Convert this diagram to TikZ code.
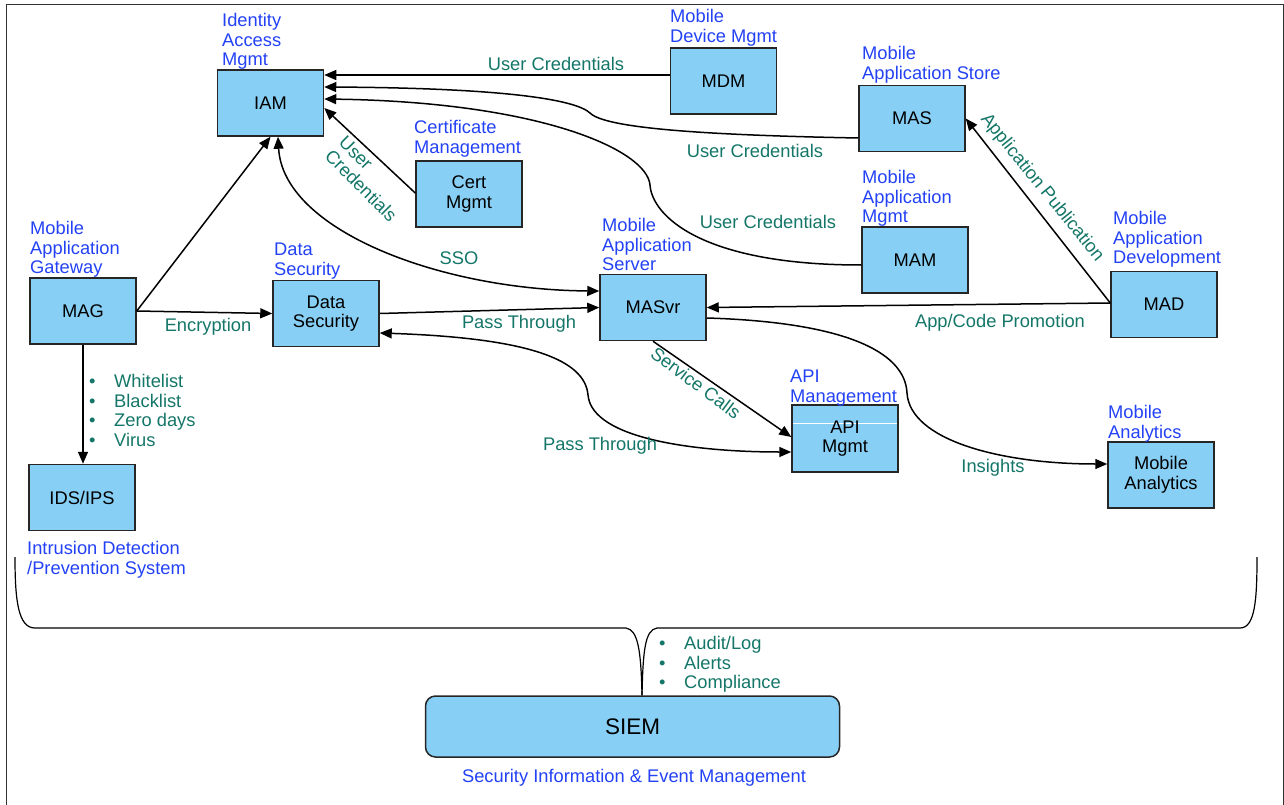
\documentclass[tikz,border=0pt]{standalone}
\usepackage{fontspec}
\setmainfont{Liberation Sans}
\usetikzlibrary{arrows.meta}
\definecolor{boxblue}{RGB}{135,207,245}
\definecolor{lblue}{RGB}{35,65,245}
\definecolor{tealtxt}{RGB}{20,118,104}
\begin{document}
\begin{tikzpicture}[x=1pt,y=-1pt,
  every node/.style={font=\fontsize{18.3}{19.7}\selectfont},
  box/.style={draw=black!85, line width=1.5pt, fill=boxblue, align=center, inner sep=0pt, minimum width=106pt, minimum height=66pt},
  lbl/.style={text=lblue, align=left, anchor=north west, inner sep=0pt},
  elbl/.style={text=tealtxt, inner sep=0pt},
  conn/.style={line width=1.5pt},
  arr/.style={line width=1.5pt, -{Triangle[length=12pt,width=10pt]}},
  darr/.style={line width=1.5pt, {Triangle[length=12pt,width=10pt]}-{Triangle[length=12pt,width=10pt]}}]
\useasboundingbox (0,0) rectangle (1284,805);
\draw[line width=1pt, black!80] (6,830) -- (6,5) -- (1283,5) -- (1283,830);

% boxes
\node[box] (iam) at (270.5,103) {IAM};
\node[box] (mdm) at (723.5,81) {MDM};
\node[box] (mas) at (912,118.5) {MAS};
\node[box] (cert) at (469,194) {Cert\\Mgmt};
\node[box] (mam) at (915,260) {MAM};
\node[box] (mad) at (1164,304.5) {MAD};
\node[box] (mag) at (83,311) {MAG};
\node[box] (ds) at (326,313.5) {Data\\Security};
\node[box] (ids) at (82,497.5) {IDS/IPS};
\node[box] (masvr) at (653,307.5) {MASvr};
\node[box, minimum height=67pt, path picture={\draw[white, line width=0.8pt] ([yshift=-18pt]path picture bounding box.north west) -- ([yshift=-18pt]path picture bounding box.north east);}] (api) at (845,438.5) {API\\Mgmt};
\node[box] (ma) at (1161,475) {Mobile\\Analytics};
\node[box, rounded corners=10pt, minimum width=414pt, minimum height=61pt, font=\fontsize{22.5}{24}\selectfont] (siem) at (632.5,726.5) {SIEM};

% blue labels
\node[lbl] (liam) at (222,13) {Identity\\Access\\Mgmt};
\node[lbl] (lmdm) at (670,9) {Mobile\\Device Mgmt};
\node[lbl] (lmas) at (862,46) {Mobile\\Application Store};
\node[lbl] (lcert) at (414,120) {Certificate\\Management};
\node[lbl] (lmam) at (862,170) {Mobile\\Application\\Mgmt};
\node[lbl] (lmad) at (1113,211) {Mobile\\Application\\Development};
\node[lbl] (lmag) at (30,221) {Mobile\\Application\\Gateway};
\node[lbl] (lds) at (274,243) {Data\\Security};
\node[lbl] (lmasvr) at (602,218) {Mobile\\Application\\Server};
\node[lbl] (lapi) at (790,370) {API\\Management};
\node[lbl] (lma) at (1108,405) {Mobile\\Analytics};
\node[lbl] (lids) at (27,541) {Intrusion Detection\\/Prevention System};
\node[text=lblue, inner sep=0pt, anchor=base] (lsiem) at (634,782.5) {Security Information \& Event Management};

% connectors
\draw[arr] (mdm.west |- 0,75) -- (iam.east |- 0,75);
\draw[arr] (mas.west |- 0,138) .. controls (700,135) and (605,128) .. (590,113) .. controls (575,99) and (500,88) .. (iam.east |- 0,87);
\draw[arr] (mam.west |- 0,265) .. controls (700,265) and (652,215) .. (650,185) .. controls (647,150) and (540,102) .. (iam.east |- 0,99);
\draw[arr] (cert.west |- 0,193) -- (iam.east |- 0,108);
\draw[arr] (mag.east) -- (iam.south);
\draw[darr] (iam.south -| 278,0) .. controls (283,230) and (440,290) .. (masvr.west |- 0,291);
\draw[arr] (mag.east) -- (ds.west);
\draw[arr] (ds.east) -- (masvr.west);
\draw[darr] (ds.east |- 0,333) .. controls (530,338) and (585,360) .. (588,395) .. controls (592,440) and (700,452) .. (api.west |- 0,452);
\draw[arr] (masvr.south) -- (api.west |- 0,437);
\coordinate (madout) at (mad.west |- 0,303);
\draw[arr] (madout) -- (masvr.east);
\draw[arr] (madout) -- (mas.east);
\draw[arr] (masvr.east |- 0,318) .. controls (840,322) and (905,350) .. (907,393) .. controls (910,440) and (1000,464) .. (ma.west |- 0,464);
\draw[arr] (mag.south) -- (mag.south |- ids.north);

% brace to SIEM
\coordinate (tip) at (siem.north -| 642,0);
\draw[line width=1.2pt] (15,557) .. controls (15,600) and (18,628) .. (35,628) -- (626,628) .. controls (638,630) and (641,650) .. (tip);
\draw[line width=1.2pt] (tip) .. controls (643,650) and (645,630) .. (657,628) -- (1240,628) .. controls (1255,628) and (1257,600) .. (1257,557);

% edge labels
\node[elbl, anchor=base] (e1) at (556,70.5) {User Credentials};
\node[elbl, anchor=base] (e2) at (755,157.5) {User Credentials};
\node[elbl, anchor=base] (e3) at (768,228.5) {User Credentials};
\node[elbl, rotate=-45, align=left] (e4) at (368,179) {User\\Credentials};
\node[elbl, anchor=base] (e5) at (459,264.5) {SSO};
\node[elbl, anchor=base] (e6) at (208,331.5) {Encryption};
\node[elbl, anchor=base] (e7) at (519,328.5) {Pass Through};
\node[elbl, anchor=base] (e8) at (600,450.5) {Pass Through};
\node[elbl, anchor=base] (e9) at (1000,327.5) {App/Code Promotion};
\node[elbl, anchor=base] (e10) at (993,472.5) {Insights};
\node[elbl, rotate=-51] (e11) at (1042,188) {Application Publication};
\node[elbl, rotate=-37] (e12) at (696,383) {Service Calls};
\node[elbl, align=left, anchor=north west] (b1) at (89,374) {\makebox[25pt][l]{•}Whitelist\\\makebox[25pt][l]{•}Blacklist\\\makebox[25pt][l]{•}Zero days\\\makebox[25pt][l]{•}Virus};
\node[elbl, align=left, anchor=north west] (b2) at (659,636) {\makebox[25pt][l]{•}Audit/Log\\\makebox[25pt][l]{•}Alerts\\\makebox[25pt][l]{•}Compliance};
\end{tikzpicture}
\end{document}
